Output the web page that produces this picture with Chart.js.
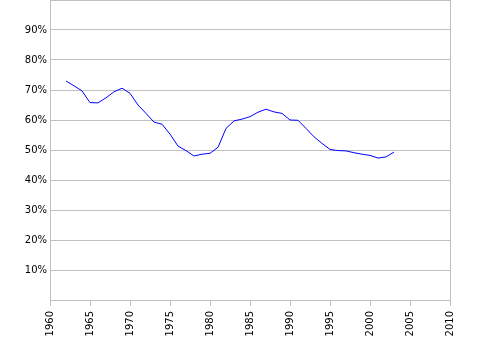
<!DOCTYPE html>
<html>
<head>
<meta charset="utf-8">
<script src="https://cdn.jsdelivr.net/npm/chart.js@4"></script>
<style>
  html, body { margin: 0; padding: 0; background: #fff; }
  #wrap { width: 500px; height: 351px; }
</style>
</head>
<body>
<div id="wrap"><canvas id="chart" width="500" height="351"></canvas></div>
<script>
// data
const years = [
  1962, 1963, 1964, 1965, 1966, 1967, 1968, 1969, 1970, 1971,
  1972, 1973, 1974, 1975, 1976, 1977, 1978, 1979, 1980, 1981,
  1982, 1983, 1984, 1985, 1986, 1987, 1988, 1989, 1990, 1991,
  1992, 1993, 1994, 1995, 1996, 1997, 1998, 1999, 2000, 2001,
  2002, 2003
];
const shares = [
  73.0, 71.4, 69.7, 65.8, 65.7, 67.4, 69.4, 70.6, 68.9, 65.0,
  62.2, 59.3, 58.6, 55.3, 51.3, 49.8, 48.0, 48.6, 48.9, 50.9,
  57.2, 59.7, 60.3, 61.1, 62.6, 63.6, 62.7, 62.2, 60.0, 59.9,
  57.2, 54.4, 52.2, 50.2, 49.8, 49.7, 49.1, 48.6, 48.2, 47.3,
  47.7, 49.3
];
const yearMin = 1960;
const yearMax = 2010;
const pctMin = 0;
const pctMax = 100;

const gridColor = "#c0c0c0";
const tickFont = { family: "DejaVu Sans", size: 10 };

const ctx = document.getElementById("chart").getContext("2d");

new Chart(ctx, {
  type: "line",
  data: {
    datasets: [
      {
        data: years.map((yr, i) => ({ x: yr, y: shares[i] })),
        borderColor: "#0000ff",
        borderWidth: 1,
        pointRadius: 0,
        tension: 0,
        fill: false
      }
    ]
  },
  options: {
    responsive: false,
    animation: false,
    layout: { padding: { top: 0, right: 50, bottom: 0, left: 0 } },
    plugins: {
      legend: { display: false },
      tooltip: { enabled: false }
    },
    scales: {
      x: {
        type: "linear",
        min: yearMin,
        max: yearMax,
        grid: {
          drawOnChartArea: false,
          drawTicks: true,
          tickLength: 6,
          color: gridColor
        },
        border: { color: gridColor },
        ticks: {
          stepSize: 5,
          minRotation: 90,
          maxRotation: 90,
          padding: 5,
          color: "#000",
          font: tickFont,
          callback: v => String(v)
        },
        afterFit: s => {
          s.height = 51;
          s.paddingLeft = 0;
          s.paddingRight = 0;
        }
      },
      y: {
        min: pctMin,
        max: pctMax,
        grid: { color: gridColor, drawTicks: false },
        border: { color: gridColor },
        ticks: {
          stepSize: 10,
          padding: 3,
          color: "#000",
          font: tickFont,
          callback: v => (v === pctMin || v === pctMax ? "" : v + "%")
        },
        afterFit: s => {
          s.width = 50;
          s.paddingTop = 0;
          s.paddingBottom = 0;
        }
      },
      y2: {
        position: "right",
        min: pctMin,
        max: pctMax,
        grid: { display: false },
        border: { display: true, color: gridColor },
        ticks: { display: false },
        afterFit: s => {
          s.width = 0;
        }
      }
    }
  }
});
</script>
</body>
</html>
